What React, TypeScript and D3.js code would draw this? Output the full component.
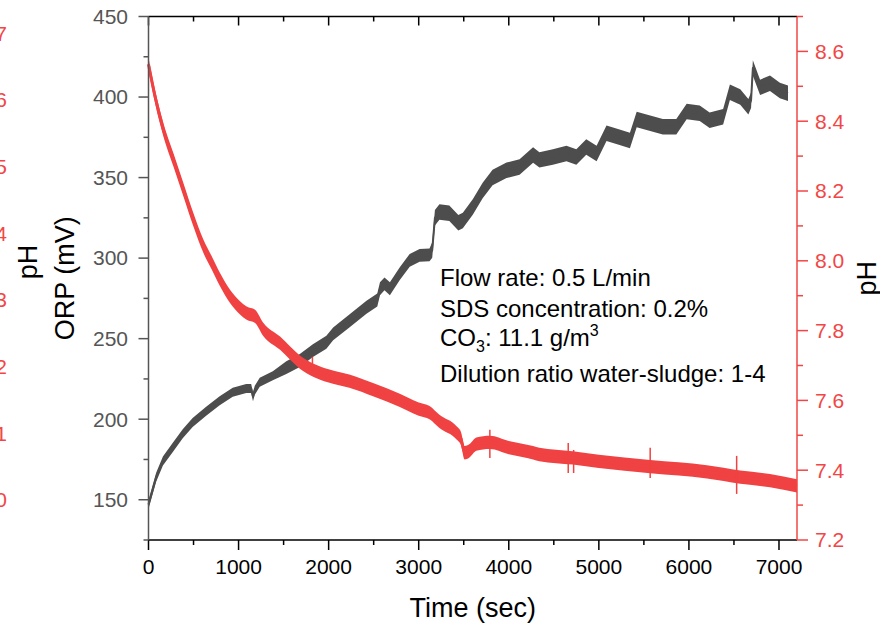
import React from 'react';
import * as d3 from 'd3';

const W = 880;
const H = 629;

// ---- tick labels ----
const TIME_TICKS = [0, 1000, 2000, 3000, 4000, 5000, 6000, 7000];
const ORP_TICKS = [150, 200, 250, 300, 350, 400, 450];
const PH_TICKS = [7.2, 7.4, 7.6, 7.8, 8.0, 8.2, 8.4, 8.6];
const GHOST_PH_TICKS = [0, 1, 2, 3, 4, 5, 6, 7];

// ---- ORP series (mV) ----
const ORP_TIME = [0, 85, 160, 270, 380, 490, 640, 790, 935, 1085,
  1140, 1160, 1180, 1235, 1380, 1530, 1680, 1825, 1975, 2050,
  2230, 2420, 2540, 2570, 2620, 2680, 2790, 2900, 3010, 3120,
  3150, 3180, 3230, 3340, 3440, 3490, 3600, 3710, 3820, 3975,
  4120, 4270, 4340, 4490, 4640, 4750, 4860, 4975, 5085, 5230,
  5345, 5420, 5570, 5710, 5860, 5975, 6120, 6230, 6380, 6455,
  6570, 6660, 6690, 6710, 6790, 6900, 7010, 7100];
const ORP_MV = [147, 164, 174, 182.5, 191, 198, 205, 211.5, 216.7, 219,
  219, 214, 218, 223, 227, 232, 236.4, 242.6, 247.8, 253,
  261, 269.5, 274, 281, 284, 281, 290.4, 298.6, 301.7, 302,
  305, 325, 328.6, 327.8, 322, 323.4, 331.7, 342, 350, 354.5,
  356.6, 364, 361, 362.8, 365, 362.8, 369, 365, 377.5, 375,
  373, 386, 383.7, 381.5, 381.5, 391, 390, 385.6, 387.7, 403,
  400, 394, 398, 418, 406, 408.6, 404, 402.4];
// noise half-amplitude (mV) by time segment
const ORP_NOISE_UNTIL = [1450, 3130, 7200];
const ORP_NOISE_MV = [2.8, 4, 4.8];

// ---- pH series ----
const PH_TIME = [0, 72, 165, 276, 387, 498, 609, 702, 794, 905,
  1016, 1090, 1183, 1276, 1461, 1680, 2000, 2230, 2500, 2790,
  3000, 3120, 3230, 3420, 3470, 3510, 3560, 3640, 3790, 4000,
  4270, 4340, 4710, 5000, 5570, 6200, 6570, 6900, 7200];
const PH_VALUE = [8.563, 8.472, 8.376, 8.29, 8.204, 8.118, 8.042, 7.994, 7.946, 7.898,
  7.865, 7.85, 7.841, 7.803, 7.764, 7.71, 7.67, 7.655, 7.63, 7.60,
  7.575, 7.565, 7.54, 7.507, 7.49, 7.45, 7.455, 7.475, 7.48, 7.465,
  7.45, 7.445, 7.435, 7.425, 7.41, 7.395, 7.38, 7.37, 7.355];
const PH_NOISE_UNTIL = [900, 7200];
const PH_NOISE = [0.019, 0.019];
// isolated spikes
const PH_SPIKE_TIME = [1820, 3790, 4660, 4720, 5570, 6530];
const PH_SPIKE_LOW = [7.69, 7.435, 7.392, 7.392, 7.378, 7.332];
const PH_SPIKE_HIGH = [7.725, 7.516, 7.478, 7.458, 7.464, 7.441];

const FONT = '"Liberation Sans", Arial, Helvetica, sans-serif';
const GRAY = '#4d4d4d';
const AXIS_GRAY = '#555555';
const RED = '#f04242';
const RED_AXIS = '#f24646';

const noiseAt = (t: number, until: number[], vals: number[]) => {
  for (let i = 0; i < until.length; i++) if (t <= until[i]) return vals[i];
  return vals[vals.length - 1];
};

export default function App() {
  const x = d3.scaleLinear().domain([0, 7200]).range([148.5, 797]);
  const yL = d3.scaleLinear().domain([125, 450]).range([540, 16.5]);
  const yR = d3.scaleLinear().domain([7.2, 8.7]).range([540, 16.5]);
  const yG = d3.scaleLinear().domain([-0.6, 7.25]).range([540, 16.5]);

  const orp = ORP_TIME.map((t, i) => ({ t, v: ORP_MV[i], n: noiseAt(t, ORP_NOISE_UNTIL, ORP_NOISE_MV) }));
  const ph = PH_TIME.map((t, i) => ({ t, v: PH_VALUE[i], n: noiseAt(t, PH_NOISE_UNTIL, PH_NOISE) }));

  const orpArea = d3.area<any>().x(d => x(d.t)).y0(d => yL(d.v - d.n)).y1(d => yL(d.v + d.n));
  const orpLine = d3.line<any>().x(d => x(d.t)).y(d => yL(d.v));
  const phArea = d3.area<any>().x(d => x(d.t)).y0(d => yR(d.v - d.n)).y1(d => yR(d.v + d.n)).curve(d3.curveMonotoneX);
  const phLine = d3.line<any>().x(d => x(d.t)).y(d => yR(d.v)).curve(d3.curveMonotoneX);

  const xMinor = d3.range(500, 7200, 1000);
  const lMinor = d3.range(125, 450, 50);
  const rMinor = d3.range(7.3, 8.75, 0.2);

  const x0 = x(0), x1 = x(7200), yTop = yL(450), yBot = yL(125);

  return (
    <div style={{ position: 'absolute', left: 0, top: 0, width: W, height: H, background: '#fff' }}>
      <svg width={W} height={H} style={{ display: 'block' }} fontFamily={FONT}>
        <rect width={W} height={H} fill="#fff" />

        {/* ghost (clipped) pH axis labels on far left */}
        {GHOST_PH_TICKS.map(v => (
          <text key={'g' + v} x={7} y={yG(v)} dy="0.35em" textAnchor="end" fontSize={21} fill={RED_AXIS}>{v}</text>
        ))}
        <text transform={`translate(37,${262}) rotate(-90)`} textAnchor="middle" fontSize={27} fill="#000">pH</text>
        <text transform={`translate(74,${yL(287.5)}) rotate(-90)`} textAnchor="middle" fontSize={27} fill="#000">ORP (mV)</text>

        {/* data */}
        <path d={orpArea(orp) || ''} fill={GRAY} />
        <path d={orpLine(orp) || ''} fill="none" stroke={GRAY} strokeWidth={2} strokeLinejoin="round" />
        <path d={phArea(ph) || ''} fill={RED} />
        <path d={phLine(ph) || ''} fill="none" stroke={RED} strokeWidth={3} strokeLinejoin="round" />
        {PH_SPIKE_TIME.map((t, i) => (
          <line key={'s' + i} x1={x(t)} x2={x(t)} y1={yR(PH_SPIKE_LOW[i])} y2={yR(PH_SPIKE_HIGH[i])} stroke={RED} strokeWidth={1.5} />
        ))}

        {/* top axis */}
        <line x1={x0} x2={x1} y1={yTop} y2={yTop} stroke="#000" strokeWidth={1.5} />
        {TIME_TICKS.map(t => <line key={'tt' + t} x1={x(t)} x2={x(t)} y1={yTop} y2={yTop + 9} stroke="#000" strokeWidth={1.5} />)}
        {xMinor.map(t => <line key={'tm' + t} x1={x(t)} x2={x(t)} y1={yTop} y2={yTop + 5} stroke="#000" strokeWidth={1.5} />)}

        {/* bottom axis */}
        <line x1={x0} x2={x1} y1={yBot} y2={yBot} stroke="#000" strokeWidth={1.5} />
        {TIME_TICKS.map(t => (
          <g key={'bt' + t}>
            <line x1={x(t)} x2={x(t)} y1={yBot} y2={yBot + 10} stroke="#000" strokeWidth={1.5} />
            <text x={x(t)} y={574} textAnchor="middle" fontSize={21} fill="#000">{t}</text>
          </g>
        ))}
        {xMinor.map(t => <line key={'bm' + t} x1={x(t)} x2={x(t)} y1={yBot} y2={yBot + 5} stroke="#000" strokeWidth={1.5} />)}
        <text x={(x0 + x1) / 2} y={617} textAnchor="middle" fontSize={27} fill="#000">Time (sec)</text>

        {/* left axis */}
        <line x1={x0} x2={x0} y1={yTop} y2={yBot} stroke={AXIS_GRAY} strokeWidth={1.5} />
        {ORP_TICKS.map(v => (
          <g key={'l' + v}>
            <line x1={x0 - 10} x2={x0} y1={yL(v)} y2={yL(v)} stroke={AXIS_GRAY} strokeWidth={1.5} />
            <text x={128} y={yL(v)} dy="0.35em" textAnchor="end" fontSize={21} fill={AXIS_GRAY}>{v}</text>
          </g>
        ))}
        {lMinor.map(v => <line key={'lm' + v} x1={x0 - 5} x2={x0} y1={yL(v)} y2={yL(v)} stroke={AXIS_GRAY} strokeWidth={1.5} />)}

        {/* right axis */}
        <line x1={x1} x2={x1} y1={yTop} y2={yBot} stroke={RED_AXIS} strokeWidth={1.5} />
        {PH_TICKS.map(v => (
          <g key={'r' + v}>
            <line x1={x1} x2={x1 + 11} y1={yR(v)} y2={yR(v)} stroke={RED_AXIS} strokeWidth={1.5} />
            <text x={815} y={yR(v)} dy="0.35em" textAnchor="start" fontSize={21} fill={RED_AXIS}>{v.toFixed(1)}</text>
          </g>
        ))}
        {rMinor.map(v => <line key={'rm' + v.toFixed(1)} x1={x1} x2={x1 + 6} y1={yR(v)} y2={yR(v)} stroke={RED_AXIS} strokeWidth={1.5} />)}
        <text transform={`translate(876,${yR(7.95)}) rotate(-90)`} textAnchor="middle" fontSize={27} fill="#000">pH</text>

        {/* annotation */}
        <g fontSize={24} fill="#000">
          <text x={440} y={286}>Flow rate: 0.5 L/min</text>
          <text x={440} y={317}>SDS concentration: 0.2%</text>
          <text x={440} y={346}>CO<tspan fontSize={16} dy={6}>3</tspan><tspan dy={-6}>: 11.1 g/m</tspan><tspan fontSize={16} dy={-10}>3</tspan></text>
          <text x={440} y={382}>Dilution ratio water-sludge: 1-4</text>
        </g>
      </svg>
    </div>
  );
}
